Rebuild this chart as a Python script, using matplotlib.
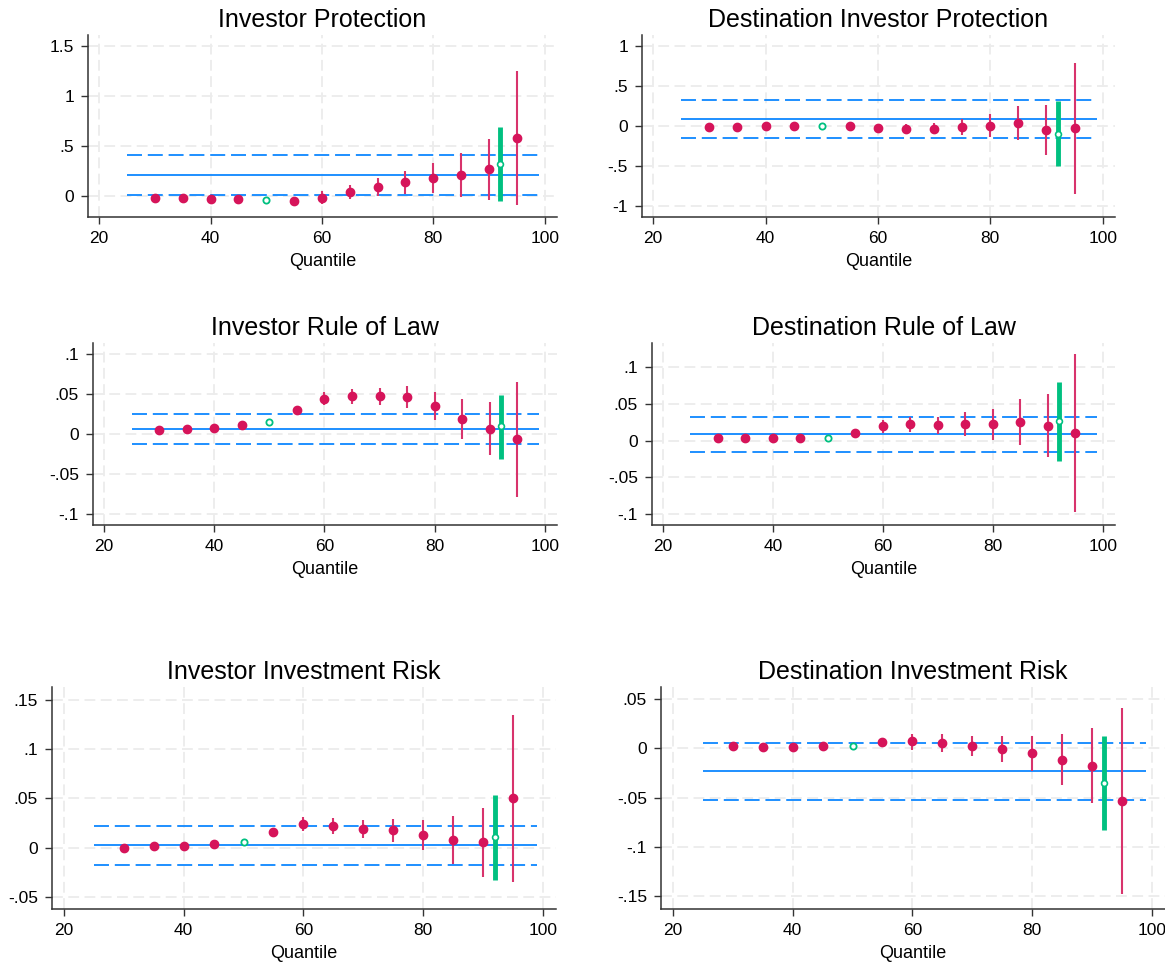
import matplotlib
matplotlib.use("Agg")
import matplotlib.pyplot as plt
import numpy as np

plt.rcParams['font.family'] = ['Liberation Sans', 'DejaVu Sans']

W, H = 1165, 967

quantiles = [30, 35, 40, 45, 55, 60, 65, 70, 75, 80, 85, 90, 95]
mid_q = 50
ols_q = 92
line_span = (25, 99)

titles = ["Investor Protection", "Destination Investor Protection",
          "Investor Rule of Law", "Destination Rule of Law",
          "Investor Investment Risk", "Destination Investment Risk"]

# quantile estimates and confidence bounds
est = [
    [-0.02, -0.02, -0.023, -0.026, -0.043, -0.013, 0.046, 0.096, 0.142, 0.185, 0.215, 0.27, 0.58],
    [-0.004, -0.004, 0.0, 0.004, 0.004, -0.017, -0.03, -0.03, -0.008, 0.004, 0.046, -0.046, -0.025],
    [0.0054, 0.0067, 0.0079, 0.0108, 0.0296, 0.0438, 0.047, 0.047, 0.046, 0.0354, 0.019, 0.0067, -0.0067],
    [0.0032, 0.0032, 0.0032, 0.0032, 0.0105, 0.0195, 0.0223, 0.021, 0.0227, 0.0223, 0.025, 0.0205, 0.0109],
    [0.0003, 0.0014, 0.002, 0.0034, 0.0162, 0.0243, 0.0226, 0.0193, 0.0179, 0.0132, 0.0078, 0.0054, 0.05],
    [0.0017, 0.0014, 0.0014, 0.0017, 0.0061, 0.0068, 0.0054, 0.0024, -0.0007, -0.0051, -0.0115, -0.0179, -0.0537],
]
lo = [
    [-0.03, -0.03, -0.033, -0.036, -0.06, -0.08, -0.03, 0.007, 0.026, 0.03, -0.003, -0.033, -0.089],
    [-0.01, -0.01, -0.006, -0.002, -0.004, -0.058, -0.09, -0.1, -0.11, -0.138, -0.167, -0.363, -0.842],
    [0.0044, 0.0057, 0.0069, 0.0095, 0.026, 0.036, 0.038, 0.0367, 0.0325, 0.017, -0.0067, -0.0267, -0.079],
    [0.0024, 0.0024, 0.0024, 0.0024, 0.0068, 0.011, 0.012, 0.009, 0.0064, 0.0005, -0.006, -0.023, -0.0968],
    [-0.0003, 0.0008, 0.0013, 0.0026, 0.0135, 0.0169, 0.0145, 0.0098, 0.0054, -0.0027, -0.0162, -0.0297, -0.0348],
    [0.0011, 0.0008, 0.0008, 0.0011, 0.002, -0.0014, -0.0034, -0.0081, -0.0145, -0.023, -0.0375, -0.0557, -0.1483],
]
hi = [
    [-0.01, -0.01, -0.013, -0.016, -0.026, 0.05, 0.115, 0.18, 0.254, 0.333, 0.43, 0.571, 1.248],
    [0.002, 0.002, 0.006, 0.01, 0.012, 0.025, 0.033, 0.04, 0.096, 0.146, 0.258, 0.263, 0.79],
    [0.0064, 0.0077, 0.0089, 0.012, 0.033, 0.052, 0.056, 0.0575, 0.06, 0.0525, 0.0433, 0.04, 0.065],
    [0.004, 0.004, 0.004, 0.004, 0.014, 0.028, 0.032, 0.032, 0.039, 0.043, 0.0564, 0.0636, 0.1186],
    [0.0009, 0.002, 0.0027, 0.0042, 0.0189, 0.031, 0.0304, 0.0284, 0.0294, 0.0287, 0.0318, 0.0405, 0.1348],
    [0.0023, 0.002, 0.002, 0.0023, 0.0098, 0.0145, 0.0139, 0.0128, 0.0125, 0.0128, 0.0142, 0.02, 0.0409],
]
mid_est = [-0.033, 0.004, 0.0154, 0.0041, 0.0064, 0.0027]

# OLS estimate with its confidence interval
ols_est = [0.327, -0.092, 0.0096, 0.0264, 0.0111, -0.0351]
ols_lo = [-0.05, -0.496, -0.031, -0.0277, -0.0331, -0.0834]
ols_hi = [0.69, 0.317, 0.0488, 0.08, 0.054, 0.0128]
# horizontal reference lines: estimate and bounds
ref_est = [0.211, 0.0875, 0.0058, 0.0086, 0.0024, -0.0236]
ref_lo = [0.013, -0.146, -0.0121, -0.0155, -0.0172, -0.0527]
ref_hi = [0.409, 0.321, 0.0246, 0.0323, 0.022, 0.0051]

yticks = [
    [0, 0.5, 1, 1.5],
    [-1, -0.5, 0, 0.5, 1],
    [-0.1, -0.05, 0, 0.05, 0.1],
    [-0.1, -0.05, 0, 0.05, 0.1],
    [-0.05, 0, 0.05, 0.1, 0.15],
    [-0.15, -0.1, -0.05, 0, 0.05],
]
ytick_labels = [
    ["0", ".5", "1", "1.5"],
    ["-1", "-.5", "0", ".5", "1"],
    ["-.1", "-.05", "0", ".05", ".1"],
    ["-.1", "-.05", "0", ".05", ".1"],
    ["-.05", "0", ".05", ".1", ".15"],
    ["-.15", "-.1", "-.05", "0", ".05"],
]
ylims = [(-0.205, 1.609), (-1.133, 1.138), (-0.114, 0.114),
         (-0.115, 0.133), (-0.062, 0.163), (-0.163, 0.062)]
xticks = [20, 40, 60, 80, 100]

# panel boxes in pixels: left, right, top, bottom
boxes = [(88, 557, 35, 217), (642, 1115, 35, 217),
         (93, 557, 343, 525), (652, 1115, 343, 525),
         (52, 556, 687, 909), (661, 1165, 687, 909)]

RED = '#d6145a'
RED_LINE = '#d8336c'
GREEN = '#00c080'
BLUE = '#1e8fff'
GRID = '#ececec'

fig = plt.figure(figsize=(W / 100, H / 100), dpi=100)

for i in range(6):
    l, r, t, b = boxes[i]
    ax = fig.add_axes([l / W, 1 - b / H, (r - l) / W, (b - t) / H])

    for x in xticks:
        ax.axvline(x, color=GRID, lw=1.3, ls=(0, (6, 3)), zorder=0)
    for y in yticks[i]:
        ax.axhline(y, color=GRID, lw=1.3, ls=(0, (6, 3)), zorder=0)

    ax.hlines(ref_est[i], *line_span, color=BLUE, lw=1.4, zorder=2)
    ax.hlines([ref_lo[i], ref_hi[i]], *line_span, color=BLUE, lw=1.4,
              linestyles=(0, (7.7, 3)), zorder=2)

    ax.vlines(quantiles, lo[i], hi[i], color=RED_LINE, lw=1.5, zorder=3)
    ax.plot(quantiles, est[i], 'o', color=RED, ms=6, zorder=4)

    ax.plot([mid_q], [mid_est[i]], 'o', mfc='white', mec=GREEN, mew=1.3,
            ms=4.5, zorder=4)

    ax.vlines(ols_q, ols_lo[i], ols_hi[i], color=GREEN, lw=3.5, zorder=5)
    ax.plot([ols_q], [ols_est[i]], 'o', mfc='white', mec=GREEN, mew=1.2,
            ms=4.2, zorder=6)

    ax.set_xlim(18, 102.2)
    ax.set_ylim(*ylims[i])
    ax.set_xticks(xticks)
    ax.set_yticks(yticks[i])
    ax.set_yticklabels(ytick_labels[i])
    ax.tick_params(labelsize=12.5, length=5, width=1, color='#333333', pad=5)
    for side in ['top', 'right']:
        ax.spines[side].set_visible(False)
    for side in ['left', 'bottom']:
        ax.spines[side].set_color('#333333')
        ax.spines[side].set_linewidth(1.1)
    ax.set_xlabel("Quantile", fontsize=13, labelpad=5)
    ax.set_title(titles[i], fontsize=18, pad=6)

fig.savefig("out.png", dpi=100)
